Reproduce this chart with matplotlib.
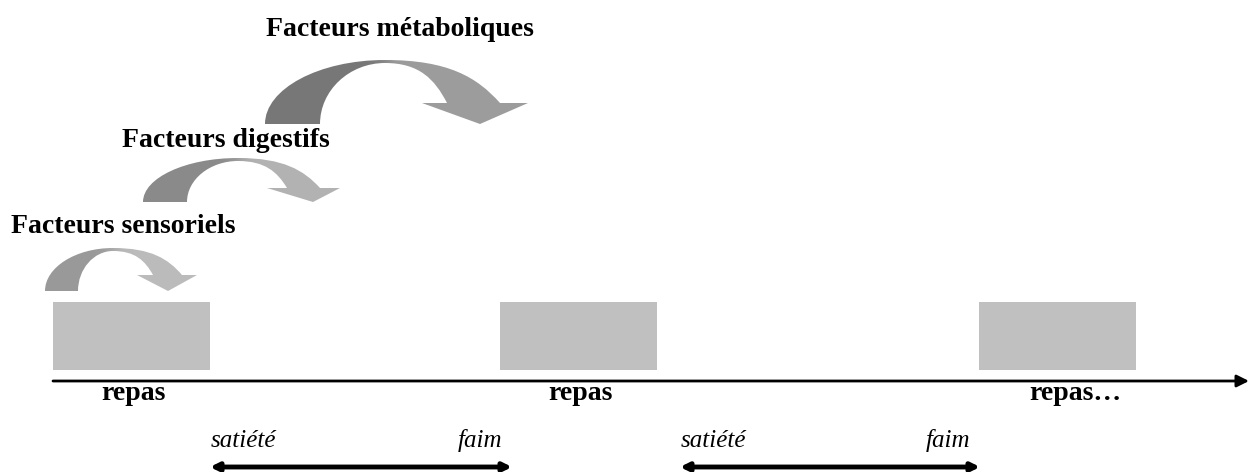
import numpy as np
import matplotlib
matplotlib.use('Agg')
import matplotlib.pyplot as plt
from matplotlib.path import Path
from matplotlib.patches import PathPatch, Rectangle

# textes du schéma
facteurs = ['Facteurs sensoriels', 'Facteurs digestifs', 'Facteurs métaboliques']
repas = ['repas', 'repas', 'repas…']
etats = ['satiété', 'faim']

# teintes des flèches courbes (gauche, droite)
teintes = [('#999999', '#bcbcbc'), ('#8a8a8a', '#b3b3b3'), ('#777777', '#9d9d9d')]

W, H = 1251, 472
fig = plt.figure(figsize=(W / 100, H / 100), dpi=100)
ax = fig.add_axes([0, 0, 1, 1])
ax.set_xlim(0, W)
ax.set_ylim(H, 0)
ax.axis('off')

police = 'Liberation Serif'


def fleche_courbe(xo, xi, yb, yt, xp, yh, hx0, hx1, tip, oe, ie, c_g, c_d):
    k = 0.55
    d = 3
    verts = [
        (xo, yb),
        (xo, yb - k * (yb - yt)), (xp - k * (xp - xo), yt), (xp, yt),
        (xp + 0.55 * (oe - xp), yt), (oe - 0.2 * (oe - xp), yh - 0.6 * (yh - yt)), (oe, yh),
        (hx1, yh), tip, (hx0, yh), (ie, yh),
        (ie - 0.2 * (ie - xp), yh - 0.6 * (yh - yt - d)), (xp + 0.55 * (ie - xp), yt + d), (xp, yt + d),
        (xp - 0.55 * (xp - xi), yt + d), (xi, yb - 0.55 * (yb - yt - d)), (xi, yb),
        (xo, yb),
    ]
    codes = ([Path.MOVETO] + [Path.CURVE4] * 6 + [Path.LINETO] * 4
             + [Path.CURVE4] * 6 + [Path.CLOSEPOLY])
    patch = PathPatch(Path(verts, codes), facecolor='none', edgecolor='none')
    ax.add_patch(patch)
    x = np.linspace(xo, hx1, 300)
    t = 1 / (1 + np.exp(-(x - xp) / 6))
    cg = np.array(matplotlib.colors.to_rgb(c_g))
    cd = np.array(matplotlib.colors.to_rgb(c_d))
    img = cg[None, :] * (1 - t[:, None]) + cd[None, :] * t[:, None]
    im = ax.imshow(img[None, :, :], extent=(xo, hx1, tip[1] + 1, yt - 1),
                   aspect='auto', interpolation='bilinear', zorder=2)
    im.set_clip_path(patch)


fleche_courbe(45, 78, 291, 248, 113, 275, 137, 197, (168, 291), 182, 153, *teintes[0])
fleche_courbe(143, 187, 202, 158, 238, 188, 267, 340, (313, 202), 320, 287, *teintes[1])
fleche_courbe(265, 320, 124, 60, 385, 103, 422, 528, (480, 124), 500, 447, *teintes[2])

gras = dict(fontsize=20, fontweight='bold', family=police, ha='center', va='baseline')
ax.text(123, 233, facteurs[0], **gras)
ax.text(226, 147, facteurs[1], **gras)
ax.text(400, 36, facteurs[2], **gras)

# blocs repas
for x0 in [53, 500, 979]:
    ax.add_patch(Rectangle((x0, 302), 157, 68, facecolor='#c0c0c0', edgecolor='none'))

# axe du temps
ax.annotate('', xy=(1249, 381), xytext=(53, 381),
            arrowprops=dict(arrowstyle='-|>', lw=2, color='black', mutation_scale=18,
                            shrinkA=0, shrinkB=0))

for xc, lab in zip([133, 580, 1075], repas):
    ax.text(xc, 400, lab, **gras)

italique = dict(fontsize=18, style='italic', family=police, ha='center', va='baseline')
for xs, xf in [(210, 512), (680, 980)]:
    ax.text(xs + 33, 447, etats[0], **italique)
    ax.text(xf - 32, 447, etats[1], **italique)
    ax.annotate('', xy=(xf, 467), xytext=(xs, 467),
                arrowprops=dict(arrowstyle='<|-|>', lw=3.5, color='black', mutation_scale=12,
                                shrinkA=0, shrinkB=0))

fig.savefig('out.png', dpi=100)
